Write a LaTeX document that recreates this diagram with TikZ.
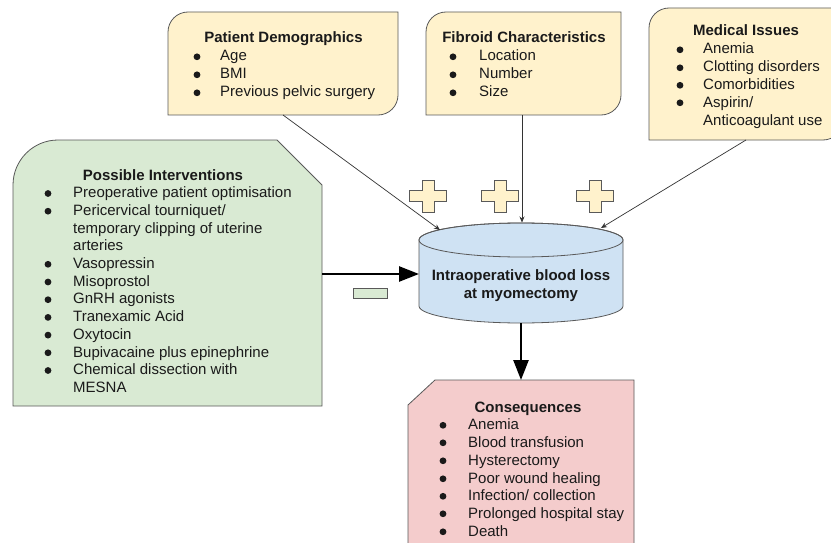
\documentclass[tikz,border=0pt]{standalone}
\usepackage{fontspec}
\setmainfont{Liberation Sans}
\usetikzlibrary{arrows.meta}
\definecolor{ylw}{HTML}{FFF2CC}
\definecolor{grn}{HTML}{D9EAD3}
\definecolor{blu}{HTML}{CFE2F3}
\definecolor{pnk}{HTML}{F4CCCC}
\definecolor{edgec}{HTML}{595959}
\definecolor{txtc}{HTML}{1A1A1A}
\tikzset{
  shapebox/.style={draw=edgec, line width=0.8pt},
  ttl/.style={anchor=base, inner sep=0pt, text=txtc, font=\fontsize{15}{18}\selectfont\bfseries},
  item/.style={anchor=base west, inner sep=0pt, text=txtc, font=\fontsize{15}{18}\selectfont},
  bul/.style={fill=txtc},
  thinarrow/.style={draw=black!80, line width=0.7pt, -{Stealth[length=6pt,width=5pt]}},
  thickarrow/.style={draw=black, line width=2.6pt, -{Triangle[length=20pt,width=15pt]}},
}
% bullet item: name, bullet x, text x, baseline y, text
\newcommand\myitem[5]{%
  \fill[bul] (#2,{4.2-#4}) circle (3.4);
  \node[item] (#1) at (#3,-#4) {#5};}
\newcommand\mycont[4]{%
  \node[item] (#1) at (#2,-#3) {#4};}
\begin{document}
\begin{tikzpicture}[x=1pt,y=1pt]
\useasboundingbox (0,0) rectangle (831,-543);
\clip (0,0) rectangle (831,-543);
\fill[white] (0,0) rectangle (831,-543);

% ---------- boxes ----------
% Patient demographics
\draw[shapebox, fill=ylw] (168,-115) -- (168,-32) arc[start angle=180,end angle=90,radius=20]
  -- (398,-12) -- (398,-95) arc[start angle=0,end angle=-90,radius=20] -- cycle;
% Fibroid characteristics
\draw[shapebox, fill=ylw] (426,-115) -- (426,-32) arc[start angle=180,end angle=90,radius=20]
  -- (621,-12) -- (621,-95) arc[start angle=0,end angle=-90,radius=20] -- cycle;
% Medical issues
\draw[shapebox, fill=ylw] (649,-140) -- (649,-28) arc[start angle=180,end angle=90,radius=20]
  -- (843,-8) -- (843,-120) arc[start angle=0,end angle=-90,radius=20] -- cycle;
% Possible interventions
\draw[shapebox, fill=grn] (13,-406) -- (13,-185) arc[start angle=180,end angle=90,radius=45]
  -- (277,-140) -- (322,-185) -- (322,-406) -- cycle;
% Consequences
\draw[shapebox, fill=pnk] (408,-560) -- (408,-405) -- (435,-380) -- (634,-380) -- (634,-560) -- cycle;

% Cylinder
\draw[shapebox, fill=blu] (419,-240) -- (419,-306)
  arc[start angle=180,end angle=360,x radius=102,y radius=17]
  -- (623,-240) arc[start angle=0,end angle=180,x radius=102,y radius=17] -- cycle;
\draw[shapebox] (521,-240) ellipse[x radius=102,y radius=17];
\node[ttl] (cyl1) at (521,-280) {Intraoperative blood loss};
\node[ttl] (cyl2) at (521,-298) {at myomectomy};

% plus signs
\foreach \cx in {428,500,595}{
  \draw[draw=edgec, line width=0.6pt, fill=ylw]
    (\cx-6,-180) -- (\cx+6,-180) -- (\cx+6,-190.5) -- (\cx+18.5,-190.5) -- (\cx+18.5,-201.5)
    -- (\cx+6,-201.5) -- (\cx+6,-212) -- (\cx-6,-212) -- (\cx-6,-201.5) -- (\cx-18.5,-201.5)
    -- (\cx-18.5,-190.5) -- (\cx-6,-190.5) -- cycle;
}
% minus sign
\draw[draw=edgec, line width=0.6pt, fill=grn] (353,-288) rectangle (387,-298);

% ---------- connector coordinates ----------
\coordinate (pd-out) at (283,-115);
\coordinate (fc-out) at (522,-115);
\coordinate (mi-out) at (746,-140);
\coordinate (cyl-a) at (440,-230);
\coordinate (cyl-b) at (522,-222.5);
\coordinate (cyl-c) at (601,-228);
\coordinate (pi-out) at (322,-274);
\coordinate (cyl-l) at (419,-274);
\coordinate (cyl-bot) at (521,-323);
\coordinate (co-in) at (521,-380);

\draw[thinarrow] (pd-out) -- (cyl-a);
\draw[thinarrow] (fc-out) -- (cyl-b);
\draw[thinarrow] (mi-out) -- (cyl-c);
\draw[thickarrow] (pi-out) -- (cyl-l);
\draw[thickarrow] (cyl-bot) -- (co-in);

% ---------- texts ----------
% Patient demographics
\node[ttl] (pd-t) at (283.5,-43) {Patient Demographics};
\myitem{pd1}{197}{220}{61}{Age}
\myitem{pd2}{197}{220}{79}{BMI}
\myitem{pd3}{197}{220}{97}{Previous pelvic surgery}

% Fibroid
\node[ttl] (fc-t) at (524,-43) {Fibroid Characteristics};
\myitem{fc1}{453}{479}{61}{Location}
\myitem{fc2}{453}{479}{79}{Number}
\myitem{fc3}{453}{479}{97}{Size}

% Medical issues
\node[ttl] (mi-t) at (746,-36) {Medical Issues};
\myitem{mi1}{680}{703}{54}{Anemia}
\myitem{mi2}{680}{703}{72}{Clotting disorders}
\myitem{mi3}{680}{703}{89.5}{Comorbidities}
\myitem{mi4}{680}{703}{107}{Aspirin/}
\mycont{mi5}{703}{125}{Anticoagulant use}

% Interventions
\node[ttl] (pi-t) at (163,-180) {Possible Interventions};
\myitem{pi1}{48}{73}{197.7}{Preoperative patient optimisation}
\myitem{pi2}{48}{73}{215.4}{Pericervical tourniquet/}
\mycont{pi3}{73}{233.1}{temporary clipping of uterine}
\mycont{pi4}{73}{250.8}{arteries}
\myitem{pi5}{48}{73}{268.5}{Vasopressin}
\myitem{pi6}{48}{73}{286.2}{Misoprostol}
\myitem{pi7}{48}{73}{303.9}{GnRH agonists}
\myitem{pi8}{48}{73}{321.6}{Tranexamic Acid}
\myitem{pi9}{48}{73}{339.3}{Oxytocin}
\myitem{pi10}{48}{73}{357}{Bupivacaine plus epinephrine}
\myitem{pi11}{48}{73}{374.7}{Chemical dissection with}
\mycont{pi12}{73}{392.4}{MESNA}

% Consequences
\node[ttl] (co-t) at (528,-412) {Consequences};
\myitem{co1}{443}{468}{429.5}{Anemia}
\myitem{co2}{443}{468}{447}{Blood transfusion}
\myitem{co3}{443}{468}{465}{Hysterectomy}
\myitem{co4}{443}{468}{483}{Poor wound healing}
\myitem{co5}{443}{468}{500.5}{Infection/ collection}
\myitem{co6}{443}{468}{518}{Prolonged hospital stay}
\myitem{co7}{443}{468}{536}{Death}
\end{tikzpicture}
\end{document}
